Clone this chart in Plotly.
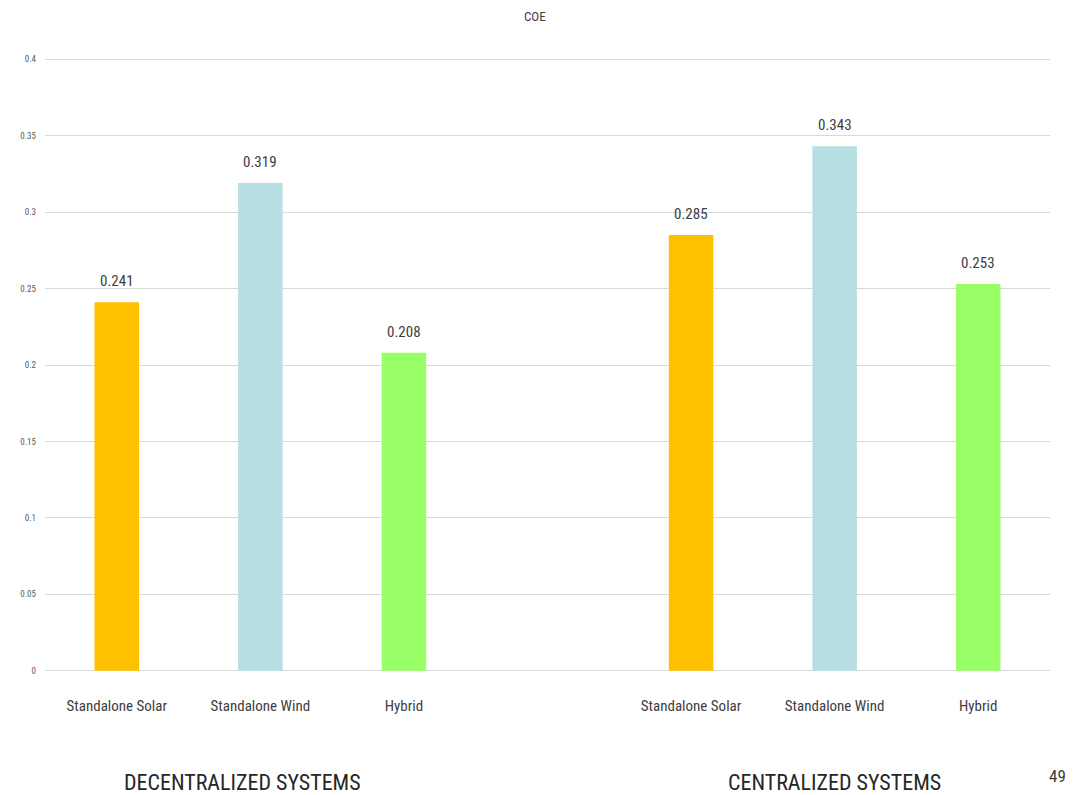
import plotly.graph_objects as go

categories = ["Standalone Solar", "Standalone Wind", "Hybrid"]
decentralized = [0.241, 0.319, 0.208]
centralized = [0.285, 0.343, 0.253]
colors = ["#FFC000", "#B7DEE3", "#99FF66"]
groups = ["DECENTRALIZED SYSTEMS", "CENTRALIZED SYSTEMS"]
y_ticks = [0, 0.05, 0.1, 0.15, 0.2, 0.25, 0.3, 0.35, 0.4]
title = "COE"
page_number = "49"

FONT = "Liberation Sans Narrow, Arial Narrow, Roboto Condensed, sans-serif"

x_pos = [0, 1, 2, 4, 5, 6]
values = decentralized + centralized
labels = categories + categories
bar_colors = colors + colors

fig = go.Figure()
fig.add_trace(go.Bar(
    x=x_pos, y=values, marker=dict(color=bar_colors, line=dict(width=0)),
    width=0.31, showlegend=False, hoverinfo="skip",
))

for xp, v in zip(x_pos, values):
    fig.add_annotation(x=xp, y=v, text=f"{v:.3f}", showarrow=False,
                       yanchor="bottom", yshift=10, xref="x", yref="y",
                       font=dict(family=FONT, size=15, color="#404040"))

for gx, g in zip([0.875, 5], groups):
    fig.add_annotation(x=gx, y=-0.18, text=g, xref="x", yref="paper", yanchor="middle",
                       showarrow=False,
                       font=dict(family=FONT, size=22, color="#262626"))

fig.add_annotation(x=0.488, y=1.067, xref="paper", yref="paper", yanchor="middle",
                   text=title, showarrow=False,
                   font=dict(family=FONT, size=13, color="#404040"))

fig.update_layout(
    width=1075, height=795,
    margin=dict(l=45, r=25, t=58, b=123),
    paper_bgcolor="white", plot_bgcolor="white",
    bargap=0.69,
)
fig.update_xaxes(
    tickvals=x_pos, ticktext=labels, range=[-0.5, 6.5],
    showgrid=False, zeroline=False, showline=False, ticks="",
    tickfont=dict(family=FONT, size=15, color="#404040"),
    ticklabelstandoff=23,
)
fig.update_yaxes(
    range=[-0.0008, 0.4008], tickvals=y_ticks, ticktext=[f"{t:g}" for t in y_ticks],
    showgrid=True, gridcolor="#D9D9D9", gridwidth=1, zeroline=False, showline=False,
    tickfont=dict(family=FONT, size=9, color="#595959"),
    ticklabelstandoff=8,
)

# page number in the bottom-right corner
fig.add_annotation(x=1.0, y=0, xref="paper", yref="paper", xanchor="left", yanchor="top",
                   xshift=-3, yshift=-92, text=page_number, showarrow=False,
                   font=dict(family=FONT, size=17, color="#404040"))

fig.write_html("out.html")
